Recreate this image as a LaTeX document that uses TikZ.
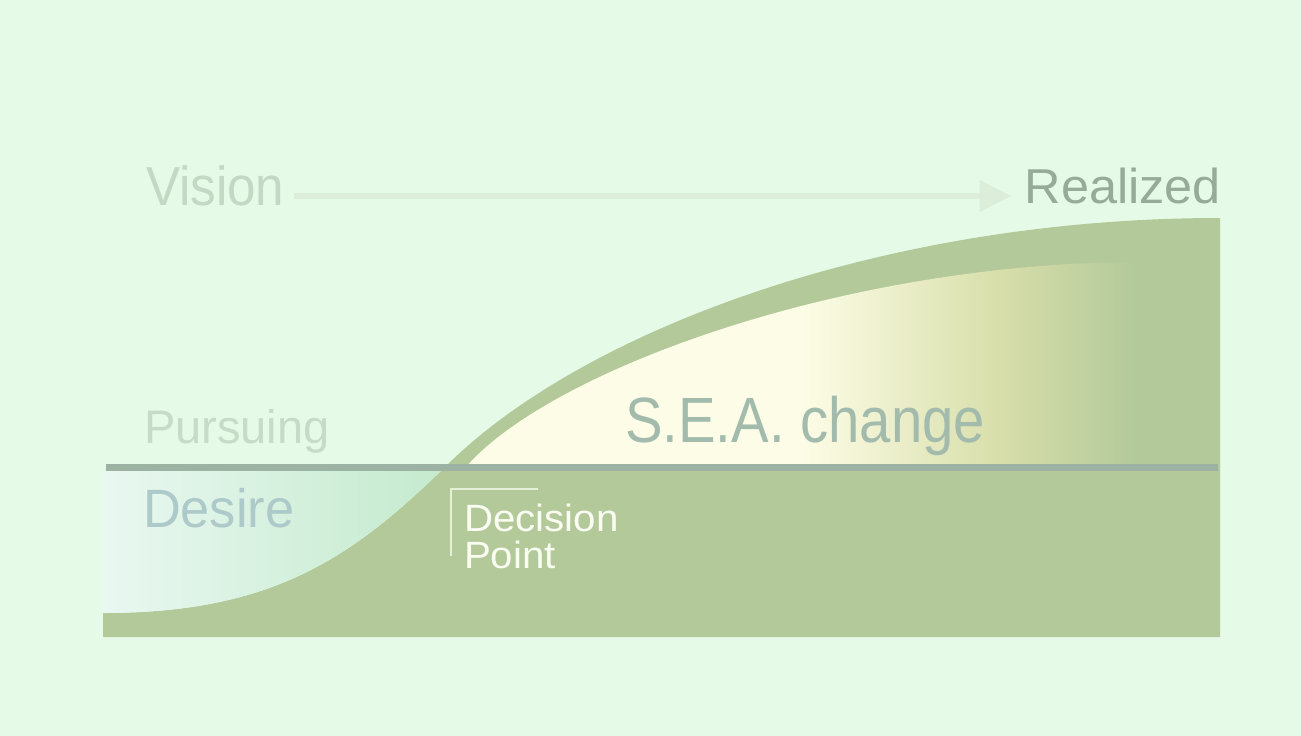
\documentclass[tikz,border=0pt]{standalone}
\usepackage{fontspec}
\setmainfont{Liberation Sans}
\usetikzlibrary{arrows.meta}

\definecolor{bg}{HTML}{E6FAE8}
\definecolor{hill}{HTML}{B3C99A}
\definecolor{railc}{HTML}{9CB2A3}
\definecolor{desL}{HTML}{E9F8F1}
\definecolor{desR}{HTML}{C4EACD}
\definecolor{cream}{HTML}{FDFDE7}
\definecolor{straw}{HTML}{D8DEAA}
\definecolor{flowc}{HTML}{DCEEDA}
\definecolor{visionc}{HTML}{C3D9C3}
\definecolor{realc}{HTML}{95AD98}
\definecolor{pursuec}{HTML}{C6DCC6}
\definecolor{desirec}{HTML}{ADC9C9}
\definecolor{seac}{HTML}{A2BBAD}
\definecolor{decc}{HTML}{FAFDF2}
\definecolor{brackc}{HTML}{E4F0D8}

\tikzset{
  label/.style={inner sep=0pt, outer sep=0pt, anchor=base west},
  flow/.style={draw=flowc, line width=6.5pt, -{Triangle[length=32pt,width=30pt]}},
  rail/.style={draw=railc, line width=7.5pt},
  bracketline/.style={draw=brackc, line width=1.4pt}
}

\begin{document}
\begin{tikzpicture}[x=1pt,y=-1pt]
\useasboundingbox[fill=bg] (0,0) rectangle (1301,736);

% green hill under the S-curve
\fill[hill] (103,637) -- (103,613)
  .. controls (270,613) and (350,560) .. (445,467)
  .. controls (580,332) and (880,218) .. (1220,218)
  -- (1220,637) -- cycle;

% desire pocket left of the curve
\begin{scope}
  \clip (103,467) -- (445,467)
    .. controls (350,560) and (270,613) .. (103,613) -- cycle;
  \shade[left color=desL, right color=desR] (103,460) rectangle (446,614);
\end{scope}

% change field inside the upper band
\begin{scope}
  \clip (466,467) .. controls (550,370) and (850,260) .. (1150,262)
    -- (1150,467) -- cycle;
  \fill[cream] (460,250) rectangle (801,470);
  \shade[left color=cream, right color=straw] (800,250) rectangle (1001,470);
  \shade[left color=straw, right color=hill] (1000,250) rectangle (1136,470);
  \fill[hill] (1135,250) rectangle (1152,470);
\end{scope}

% horizontal rail
\coordinate (railL) at (106,467.5);
\coordinate (railR) at (1218,467.5);
\draw[rail] (railL) -- (railR);

% labels
\node[label, text=visionc, font=\fontsize{55}{60}\selectfont] (vision) at (146,205)
  {\scalebox{0.93}[1]{Vision}};
\node[label, anchor=base east, text=realc, font=\fontsize{49}{54}\selectfont] (realized) at (1221,203)
  {\scalebox{1.03}[1]{Realized}};
\node[label, text=pursuec, font=\fontsize{47}{52}\selectfont] (pursuing) at (144,443)
  {Pursuing};
\node[label, text=desirec, font=\fontsize{54}{60}\selectfont] (desire) at (143,527)
  {\scalebox{0.97}[1]{Desire}};
\node[label, text=seac, font=\fontsize{64}{70}\selectfont] (sea) at (625,442)
  {\scalebox{0.88}[1]{S.E.A. change}};
\node[label, text=decc, font=\fontsize{38}{33}\selectfont] (decision) at (464,531)
  {\scalebox{1.06}[1]{\begin{tabular}[t]{@{}l@{}}Decision\\Point\end{tabular}}};

% vision arrow
\draw[flow, shorten <=10pt, shorten >=13pt]
  ([yshift=9pt]vision.base east) -- ([yshift=7pt]realized.base west);

% decision bracket
\coordinate (brA) at (538,489);
\coordinate (brB) at (451,489);
\coordinate (brC) at (451,556);
\draw[bracketline] (brA) -- (brB) -- (brC);
\end{tikzpicture}
\end{document}
